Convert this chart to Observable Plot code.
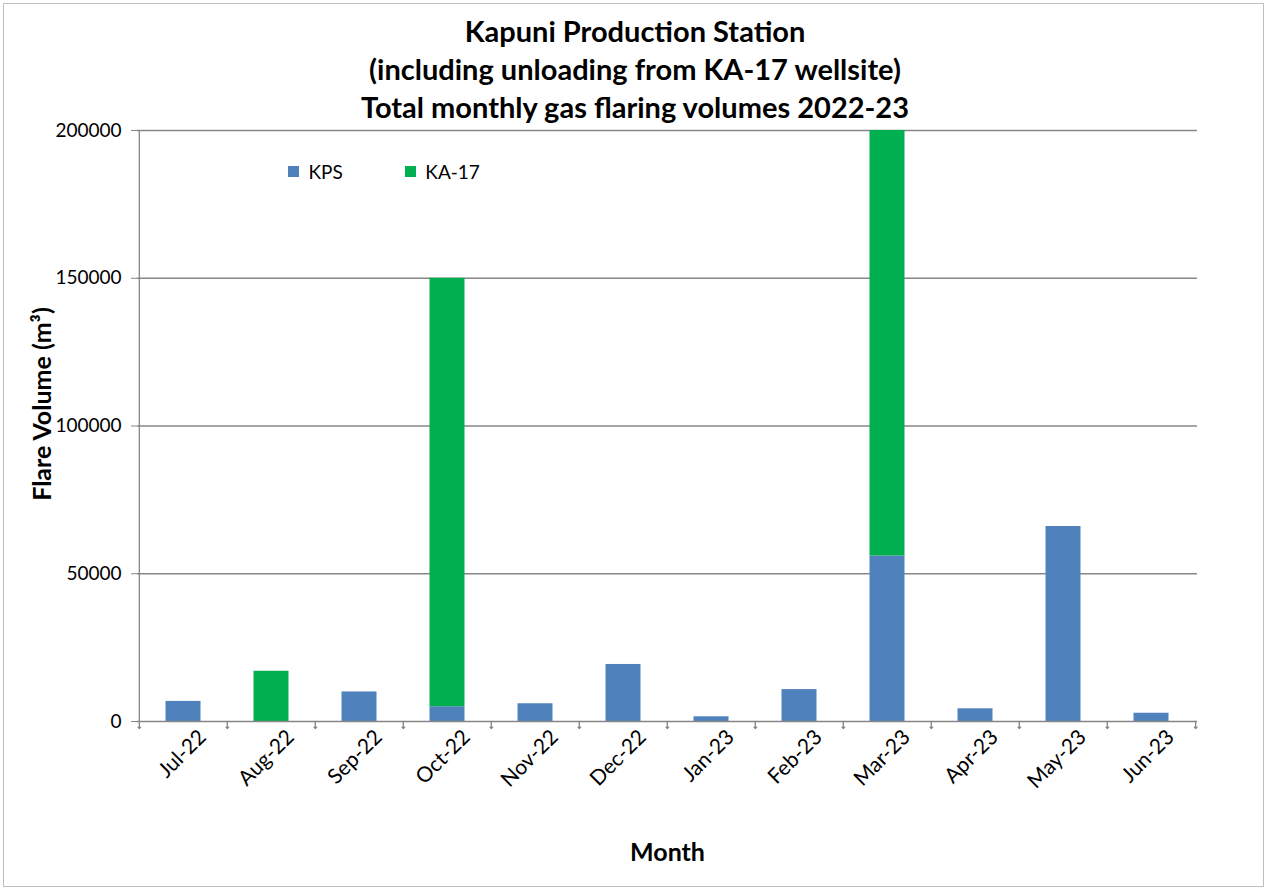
<!DOCTYPE html>
<html>
<head>
<meta charset="utf-8">
<script src="https://cdn.jsdelivr.net/npm/d3@7"></script>
<script src="https://cdn.jsdelivr.net/npm/@observablehq/plot@0.6"></script>
<style>
  html, body { margin: 0; padding: 0; background: #fff; }
  #wrap { position: relative; width: 1270px; height: 892px; font-family: Lato, "Open Sans", sans-serif; }
  #frame { position: absolute; left: 3px; top: 3px; width: 1261px; height: 884px; border: 1px solid #bfbfbf; box-sizing: border-box; pointer-events: none; }
  #title { position: absolute; left: 0; width: 1270px; top: 12px; text-align: center; font-weight: bold; font-size: 29px; line-height: 38px; color: #000; }
  #legend { position: absolute; left: 288px; top: 155px; }
  #legend .lg-swatch { margin-right: 62px; font-size: 19px; }
  #legend .lg-swatches { font-family: Lato, sans-serif; font-size: 19px; }
</style>
</head>
<body>
<div id="wrap">
  <div id="chart"></div>
  <div id="title">Kapuni Production Station<br>(including unloading from KA-17 wellsite)<br>Total monthly gas flaring volumes 2022-23</div>
  <div id="legend"></div>
  <div id="frame"></div>
</div>
<script>
const months = ["Jul-22","Aug-22","Sep-22","Oct-22","Nov-22","Dec-22","Jan-23","Feb-23","Mar-23","Apr-23","May-23","Jun-23"];
const kps  = [6800, 0, 10000, 5000, 6000, 19300, 1600, 10800, 56000, 4300, 66000, 2800];
const ka17 = [0, 17000, 0, 145000, 0, 0, 0, 0, 144000, 0, 0, 0];
const seriesNames = ["KPS", "KA-17"];
const seriesColors = ["#4F81BD", "#00B050"];
const yTicks = [0, 50000, 100000, 150000, 200000];

const data = [];
months.forEach((m, i) => {
  data.push({month: m, series: "KPS", value: kps[i]});
  data.push({month: m, series: "KA-17", value: ka17[i]});
});

const W = 1270, H = 892, ML = 137, MR = 73, MT = 130, MB = 171;
const bw = (W - ML - MR) / months.length;
const gray = "#868686";

const plot = Plot.plot({
  width: W, height: H,
  marginLeft: ML, marginRight: MR, marginTop: MT, marginBottom: MB,
  style: {fontFamily: "Lato, sans-serif", fontSize: "18px", color: "#000", background: "transparent"},
  x: {domain: months, padding: 0, label: null},
  y: {domain: [0, 200000], label: null},
  color: {domain: seriesNames, range: seriesColors},
  marks: [
    Plot.gridY(yTicks.slice(1), {stroke: gray, strokeOpacity: 1, strokeWidth: 1.3}),
    Plot.barY(data, {x: "month", y: "value", fill: "series", order: seriesNames, insetLeft: bw * 0.3, insetRight: bw * 0.3}),
    Plot.ruleY([0], {stroke: gray, strokeWidth: 1.3}),
    Plot.ruleX([months[0]], {stroke: gray, strokeWidth: 1.3, dx: -bw / 2}),
    Plot.axisY({ticks: yTicks, tickSize: 6, tickPadding: 10, stroke: gray, tickFormat: d3.format("d"), label: null, fontSize: 19}),
    Plot.axisX({tickSize: 0, tickRotate: -45, tickPadding: 12, dx: 19, label: null, fontSize: 21}),
    Plot.vector(months, {x: d => d, y: 0, length: 7, rotate: 180, anchor: "start", dx: -bw / 2, stroke: gray, strokeWidth: 1.3}),
    Plot.vector([months[months.length - 1]], {x: d => d, y: 0, length: 7, rotate: 180, anchor: "start", dx: bw / 2, stroke: gray, strokeWidth: 1.3}),
    Plot.text(["Flare Volume (m³)"], {frameAnchor: "left", textAnchor: "middle", rotate: -90, dx: -95, dy: -22, fontWeight: "bold", fontSize: 25}),
    Plot.text(["Month"], {frameAnchor: "bottom", dy: 139, fontWeight: "bold", fontSize: 25})
  ]
});
document.getElementById("chart").appendChild(plot);

const lg = plot.legend("color", {swatchSize: 11, className: "lg"});
document.getElementById("legend").appendChild(lg);
</script>
</body>
</html>
